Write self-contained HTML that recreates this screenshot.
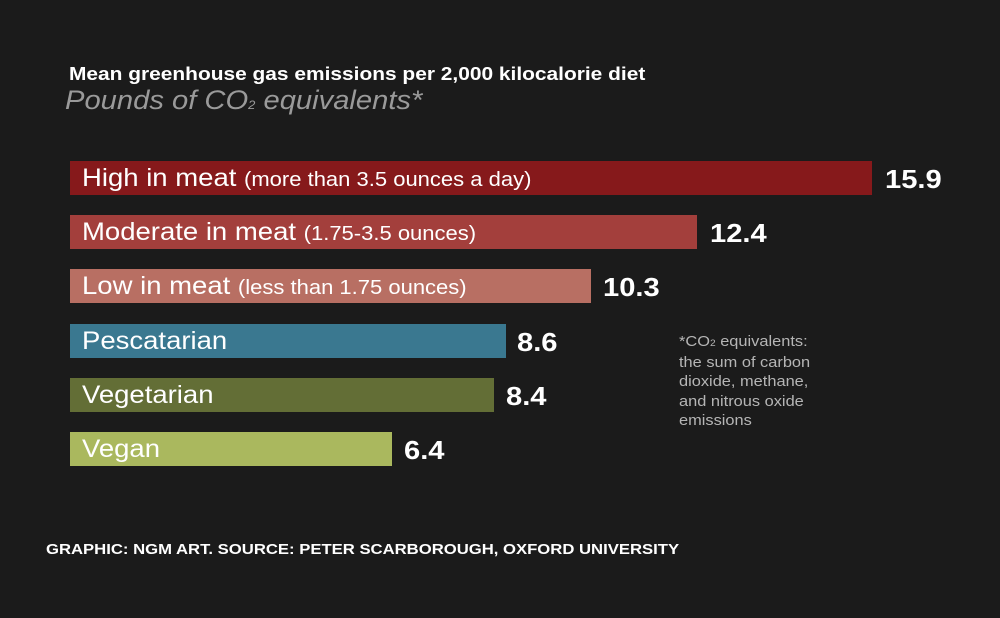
<!DOCTYPE html>
<html><head><style>
body{margin:0;width:1000px;height:618px;background:#1b1b1b;position:relative;overflow:hidden;font-family:"Liberation Sans",sans-serif;}
.a{position:absolute;white-space:nowrap;transform-origin:0 0}
.bar{position:absolute;left:70px;height:34px;background:#000}
.t{position:absolute;left:82px;color:#fff;font-size:25px;line-height:34px;white-space:nowrap;transform:scaleX(1.1);transform-origin:0 0}
.t small{font-size:20px}
.v{position:absolute;color:#fff;font-weight:bold;font-size:26px;line-height:34px;transform:scaleX(1.12);transform-origin:0 0}
</style></head><body>
<div class="a" style="left:69px;top:63px;color:#fff;font-weight:bold;font-size:18.5px;transform:scaleX(1.13)">Mean greenhouse gas emissions per 2,000 kilocalorie diet</div>
<div class="a" style="left:65px;top:85px;color:#9a9a9a;font-style:italic;font-size:27px;transform:scaleX(1.08)">Pounds of CO<span style="font-size:12px">2</span> equivalents*</div>
<div class="bar" style="top:161px;width:802px;background:#86191b"></div>
<div class="t" style="top:161px">High in meat <small>(more than 3.5 ounces a day)</small></div>
<div class="v" style="left:885px;top:162px">15.9</div>
<div class="bar" style="top:215px;width:627px;background:#a33f3c"></div>
<div class="t" style="top:215px">Moderate in meat <small>(1.75-3.5 ounces)</small></div>
<div class="v" style="left:710px;top:216px">12.4</div>
<div class="bar" style="top:269px;width:521px;background:#b86f63"></div>
<div class="t" style="top:269px">Low in meat <small>(less than 1.75 ounces)</small></div>
<div class="v" style="left:603px;top:270px">10.3</div>
<div class="bar" style="top:324px;width:436px;background:#3a7890"></div>
<div class="t" style="top:324px">Pescatarian</div>
<div class="v" style="left:517px;top:325px">8.6</div>
<div class="bar" style="top:378px;width:424px;background:#636e36"></div>
<div class="t" style="top:378px">Vegetarian</div>
<div class="v" style="left:506px;top:379px">8.4</div>
<div class="bar" style="top:432px;width:322px;background:#aab85e"></div>
<div class="t" style="top:432px">Vegan</div>
<div class="v" style="left:404px;top:433px">6.4</div>
<div class="a" style="left:679px;top:333px;color:#b5b5b5;font-size:14.5px;line-height:19.5px;transform:scaleX(1.13)">*CO<span style="font-size:9px">2</span> equivalents:<br>the sum of carbon<br>dioxide, methane,<br>and nitrous oxide<br>emissions</div>
<div class="a" style="left:46px;top:542px;color:#fff;font-weight:bold;font-size:14.5px;transform:scaleX(1.15)">GRAPHIC: NGM ART. SOURCE: PETER SCARBOROUGH, OXFORD UNIVERSITY</div>
</body></html>
